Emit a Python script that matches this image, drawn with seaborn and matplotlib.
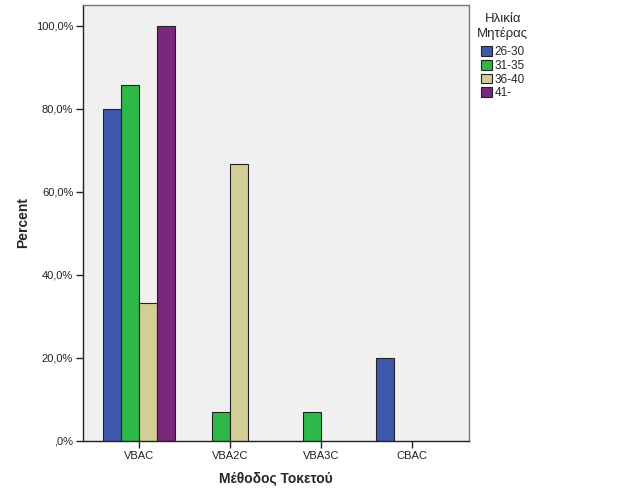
import matplotlib
matplotlib.use('Agg')
import matplotlib.pyplot as plt
from matplotlib.ticker import FuncFormatter
import seaborn as sns
import pandas as pd

# Δεδομένα
methods = ['VBAC', 'VBA2C', 'VBA3C', 'CBAC']
age_groups = ['26-30', '31-35', '36-40', '41-']
pct_26_30 = [80.0, None, None, 20.0]
pct_31_35 = [85.7, 7.1, 7.1, None]
pct_36_40 = [33.3, 66.7, None, None]
pct_41 = [100.0, None, None, None]
colors = ['#3E58AC', '#2EB848', '#D3CE97', '#7B277B']

rows = []
for grp, vals in zip(age_groups, [pct_26_30, pct_31_35, pct_36_40, pct_41]):
    for m, v in zip(methods, vals):
        if v is not None:
            rows.append({'Method': m, 'Age': grp, 'Percent': v})
df = pd.DataFrame(rows)

sns.set_style('white')
plt.rcParams['font.family'] = ['Liberation Sans', 'DejaVu Sans']

fig = plt.figure(figsize=(6.26, 5.01), dpi=100)
ax = fig.add_axes([0.1326, 0.1198, 0.6166, 0.8702])
ax.set_facecolor('#F0F0F0')

sns.barplot(data=df, x='Method', y='Percent', hue='Age', order=methods,
            hue_order=age_groups, palette=colors, width=0.8, saturation=1,
            edgecolor='#222222', linewidth=0.8, errorbar=None, ax=ax)

ax.set_xlim(-0.615, 3.625)
ax.set_ylim(0, 105)
ax.set_yticks([0, 20, 40, 60, 80, 100])
ax.yaxis.set_major_formatter(FuncFormatter(
    lambda v, p: ',0%' if v == 0 else f'{v:.1f}%'.replace('.', ',')))
ax.tick_params(axis='both', direction='out', length=5, width=1,
               color='#222222', labelsize=8, labelcolor='#222222', pad=2)
ax.tick_params(axis='x', bottom=True)
ax.tick_params(axis='y', left=True)

for s in ['left', 'bottom']:
    ax.spines[s].set_color('#222222')
    ax.spines[s].set_linewidth(1)
for s in ['top', 'right']:
    ax.spines[s].set_color('#777777')
    ax.spines[s].set_linewidth(1)

ax.set_xlabel('Μέθοδος Τοκετού', fontsize=10, fontweight='bold')
ax.set_ylabel('Percent', fontsize=10, fontweight='bold')
ax.xaxis.set_label_coords(0.5, -0.068)
ax.yaxis.set_label_coords(-0.137, 0.5)

ax.legend_.remove()
handles = [plt.Rectangle((0, 0), 1, 1, facecolor=c, edgecolor='#222222', linewidth=0.8)
           for c in colors]
leg = fig.legend(handles, age_groups, title='Ηλικία\nΜητέρας', loc='upper left',
                 bbox_to_anchor=(0.755, 0.983), frameon=False, fontsize=8.5,
                 title_fontsize=9.5, handlelength=0.9, handleheight=0.9,
                 handletextpad=0.25, labelspacing=0.15, borderaxespad=0)
leg.get_title().set_multialignment('center')
leg._legend_box.sep = 4.2  # a bit more room under the title

fig.savefig('out.png', dpi=100, facecolor='white')
